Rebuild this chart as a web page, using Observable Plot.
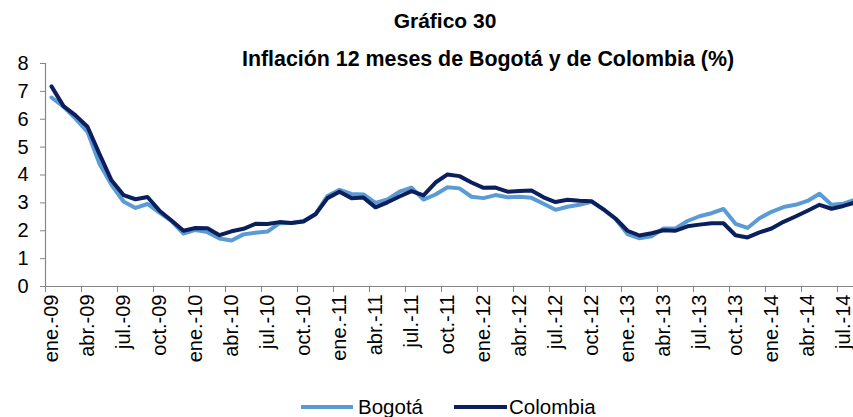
<!DOCTYPE html>
<html>
<head>
<meta charset="utf-8">
<script src="https://cdn.jsdelivr.net/npm/d3@7"></script>
<script src="https://cdn.jsdelivr.net/npm/@observablehq/plot@0.6"></script>
<style>
  body { margin: 0; background: #fff; font-family: "Liberation Sans", Arial, sans-serif; }
  #wrap { position: relative; width: 853px; height: 417px; overflow: hidden; }
  #chart { position: absolute; left: 0; top: 0; }
  .t { position: absolute; font-weight: bold; white-space: nowrap; transform: translate(-50%, -50%); color: #000; }
  .lg { position: absolute; font-size: 20.5px; white-space: nowrap; transform: translateY(-50%); color: #000; }
  .sw { position: absolute; height: 4px; transform: translateY(-50%); }
</style>
</head>
<body>
<div id="wrap">
  <div id="chart"></div>
  <div class="t" style="left:445px; top:21px; font-size:21px;">Gráfico 30</div>
  <div class="t" style="left:488px; top:59px; font-size:21.4px;">Inflación 12 meses de Bogotá y de Colombia (%)</div>
  <div class="sw" style="left:301px; top:407px; width:52px; background:#5B9BD5;"></div>
  <div class="lg" style="left:358px; top:407px;">Bogotá</div>
  <div class="sw" style="left:454px; top:407px; width:53px; background:#0B1F5C;"></div>
  <div class="lg" style="left:509px; top:407px;">Colombia</div>
</div>
<script>
const monthNames = ["ene.", "feb.", "mar.", "abr.", "may.", "jun.", "jul.", "ago.", "sep.", "oct.", "nov.", "dic."];
const years = ["09", "10", "11", "12", "13", "14"];
const months = years.flatMap(y => monthNames.map(m => m + "-" + y)).slice(0, 68);

const bogota = [
  6.78, 6.45, 6.02, 5.55, 4.40, 3.65, 3.05, 2.82, 2.96, 2.65, 2.35, 1.90,
  2.03, 1.95, 1.72, 1.65, 1.87, 1.93, 1.97, 2.27, 2.28, 2.35, 2.60, 3.25,
  3.47, 3.32, 3.30, 3.00, 3.12, 3.40, 3.55, 3.12, 3.30, 3.56, 3.52, 3.22,
  3.17, 3.28, 3.20, 3.22, 3.18, 2.97, 2.75, 2.86, 2.93, 3.04, 2.76, 2.42,
  1.88, 1.73, 1.80, 2.08, 2.08, 2.35, 2.52, 2.63, 2.78, 2.25, 2.10, 2.45,
  2.68, 2.85, 2.93, 3.07, 3.33, 2.93, 2.97, 3.12
];
const colombia = [
  7.18, 6.47, 6.14, 5.73, 4.75, 3.81, 3.28, 3.13, 3.21, 2.72, 2.37, 2.00,
  2.10, 2.09, 1.84, 1.98, 2.07, 2.25, 2.24, 2.31, 2.28, 2.33, 2.59, 3.17,
  3.40, 3.17, 3.19, 2.84, 3.02, 3.23, 3.42, 3.27, 3.73, 4.02, 3.96, 3.73,
  3.54, 3.55, 3.40, 3.43, 3.44, 3.20, 3.03, 3.11, 3.08, 3.06, 2.77, 2.44,
  2.00, 1.83, 1.91, 2.02, 2.00, 2.16, 2.22, 2.27, 2.27, 1.84, 1.76, 1.94,
  2.08, 2.32, 2.51, 2.72, 2.93, 2.79, 2.89, 3.02
];
const yTicks = [0, 1, 2, 3, 4, 5, 6, 7, 8];

const labelIdx = d3.range(0, 67, 3);
const boundaryIdx = d3.range(-0.5, 67, 3);

const chart = Plot.plot({
  width: 853,
  height: 417,
  marginTop: 63,
  marginBottom: 131,
  marginLeft: 45,
  marginRight: 0,
  x: { type: "linear", domain: [-0.5, 66.833], label: null },
  y: { domain: [0, 8], label: null },
  style: { fontFamily: "Liberation Sans, Arial, sans-serif", color: "#000", background: "transparent", overflow: "hidden" },
  marks: [
    Plot.axisY({ ticks: yTicks, tickSize: 5, tickPadding: 12, fontSize: 20, stroke: "#868686", fill: "#000", label: null }),
    Plot.axisX({ ticks: boundaryIdx, tickSize: 6, tickFormat: () => "", stroke: "#868686", label: null }),
    Plot.axisX({ ticks: labelIdx, tickSize: 0, tickPadding: 8, tickRotate: -90, fontSize: 20, tickFormat: d => months[d], fill: "#000", label: null }),
    Plot.ruleY([0], { stroke: "#868686", strokeWidth: 1.2 }),
    Plot.ruleX([-0.5], { stroke: "#868686", strokeWidth: 1.2 }),
    Plot.line(bogota, { x: (d, i) => i, y: d => d, stroke: "#5B9BD5", strokeWidth: 4, clip: true }),
    Plot.line(colombia, { x: (d, i) => i, y: d => d, stroke: "#0B1F5C", strokeWidth: 4, clip: true })
  ]
});
document.getElementById("chart").appendChild(chart);
</script>
</body>
</html>
